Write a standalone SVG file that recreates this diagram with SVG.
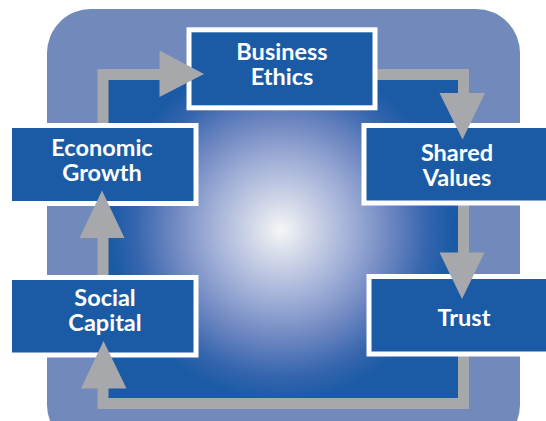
<svg xmlns="http://www.w3.org/2000/svg" width="546" height="421" viewBox="0 0 546 421">
<style>
.box{fill:#1b5ba5;stroke:#ffffff;stroke-width:5}
.lbl{font-family:Lato,"Open Sans","Liberation Sans",sans-serif;font-weight:bold;font-size:23.5px;fill:#ffffff;text-anchor:middle}
.arr{fill:#a7a8ab}
.line{fill:none;stroke:#a7a8ab;stroke-width:11}
</style>
<defs>
<radialGradient id="glow" cx="281" cy="230" r="170" gradientUnits="userSpaceOnUse">
<stop offset="0" stop-color="#f6f6f6"/>
<stop offset="0.15" stop-color="#d6dbea"/>
<stop offset="0.4" stop-color="#a3b1d8"/>
<stop offset="0.64" stop-color="#6e87c1"/>
<stop offset="0.86" stop-color="#3565ae"/>
<stop offset="1" stop-color="#1b5ba5"/>
</radialGradient>
</defs>
<rect x="47" y="9" width="473" height="440" rx="44" ry="44" fill="#7189bb"/>
<rect x="103" y="74.5" width="360.5" height="329" fill="url(#glow)"/>
<g id="connectors">
<rect class="line" x="103" y="74.5" width="360.5" height="329"/>
</g>
<g id="business-ethics">
<rect class="box" x="189" y="29.8" width="186" height="78"/>
<text class="lbl" x="282" y="60">Business<tspan x="282" dy="25">Ethics</tspan></text>
</g>
<g id="economic-growth">
<rect class="box" x="9.5" y="125.5" width="186.5" height="78"/>
<text class="lbl" x="102" y="156">Economic<tspan x="102" dy="25">Growth</tspan></text>
</g>
<g id="shared-values">
<rect class="box" x="364" y="125.5" width="190" height="77.5"/>
<text class="lbl" x="457" y="161">Shared<tspan x="457" dy="24.5">Values</tspan></text>
</g>
<g id="social-capital">
<rect class="box" x="9.5" y="277.5" width="186.5" height="77.5"/>
<text class="lbl" x="105" y="306">Social<tspan x="105" dy="24.5">Capital</tspan></text>
</g>
<g id="trust">
<rect class="box" x="369" y="276.5" width="185" height="77.5"/>
<text class="lbl" x="464" y="325.5">Trust</text>
</g>
<g id="arrowheads">
<polygon class="arr" points="159.5,50.5 204,74 159.5,97"/>
<polygon class="arr" points="439.5,93 485,93 462.5,139.5"/>
<polygon class="arr" points="439.5,252.5 484.5,252.5 462,299"/>
<polygon class="arr" points="79.5,238 124.5,238 102,190.5"/>
<polygon class="arr" points="81,388.5 126.5,388.5 103.5,341"/>
</g>
</svg>
